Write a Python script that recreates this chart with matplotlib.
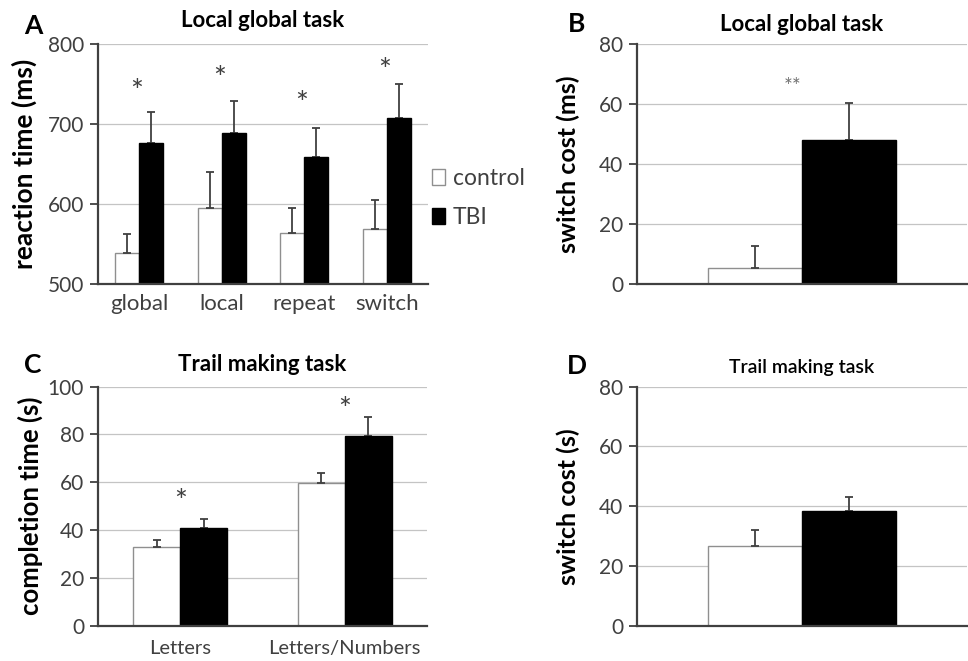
import matplotlib
matplotlib.use("Agg")
import matplotlib.pyplot as plt
from matplotlib.patches import Patch
from matplotlib.transforms import offset_copy
import numpy as np

plt.rcParams['font.family'] = ['Lato', 'DejaVu Sans']

# ---- data ----
cats_A = ['global', 'local', 'repeat', 'switch']
control_A = [539, 595, 564, 569]
control_A_err = [24, 45, 31, 36]
tbi_A = [676, 689, 659, 707]
tbi_A_err = [39, 40, 36, 43]
star_A_y = [751, 767, 736, 777]

control_B = [5.4]
control_B_err = [7.3]
tbi_B = [47.9]
tbi_B_err = [12.4]
star_B_y = [67.7]

cats_C = ['Letters', 'Letters/Numbers']
control_C = [32.8, 59.7]
control_C_err = [3.1, 4.2]
tbi_C = [40.9, 79.4]
tbi_C_err = [3.6, 7.8]
star_C_y = [55.4, 93.7]

control_D = [26.7]
control_D_err = [5.3]
tbi_D = [38.5]
tbi_D_err = [4.5]

TXT = '#404040'
GRID = '#c4c4c4'

fig = plt.figure(figsize=(9.68, 6.61), dpi=100)

axA = fig.add_axes([0.1012, 0.5703, 0.3409, 0.3631])
axB = fig.add_axes([0.658, 0.5703, 0.341, 0.3631])
axC = fig.add_axes([0.1012, 0.0534, 0.3399, 0.3616])
axD = fig.add_axes([0.658, 0.0534, 0.341, 0.3616])


def draw(ax, cats, ctrl, ctrl_err, tbi, tbi_err, ylim, yticks, width, xtick_fs, ytick_fs, xpad):
    x = np.arange(len(ctrl))
    ax.bar(x - width / 2, ctrl, width, color='white', edgecolor='#8f8f8f', linewidth=1.0, zorder=2)
    ax.bar(x + width / 2, tbi, width, color='black', edgecolor='black', linewidth=1.0, zorder=2)
    ax.errorbar(x - width / 2, ctrl, yerr=[np.zeros(len(ctrl)), ctrl_err], fmt='none',
                ecolor=TXT, elinewidth=1.3, capsize=3, capthick=1.3, zorder=3)
    ax.errorbar(x + width / 2, tbi, yerr=[np.zeros(len(tbi)), tbi_err], fmt='none',
                ecolor=TXT, elinewidth=1.3, capsize=3, capthick=1.3, zorder=1.5)
    ax.set_xlim(-0.5, len(ctrl) - 0.5)
    ax.set_ylim(*ylim)
    ax.set_yticks(yticks)
    ax.yaxis.grid(True, color=GRID, linewidth=0.9)
    ax.set_axisbelow(True)
    for s in ['top', 'right']:
        ax.spines[s].set_visible(False)
    for s in ['left', 'bottom']:
        ax.spines[s].set_color(TXT)
        ax.spines[s].set_linewidth(1.6)
    ax.spines['bottom'].set_zorder(4)
    ax.tick_params(axis='y', length=6, width=1.3, color=TXT, labelcolor=TXT,
                   labelsize=ytick_fs, pad=4)
    ax.tick_params(axis='x', length=0, labelcolor=TXT, labelsize=xtick_fs, pad=xpad)
    if cats is None:
        ax.set_xticks([])
    else:
        ax.set_xticks(x)
        ax.set_xticklabels(cats)
    return x


def stars(ax, xs, ys, txt, fs, color):
    tr = offset_copy(ax.transData, fig=fig, y=-0.58 * fs, units='points')
    for xi, yi in zip(xs, ys):
        ax.text(xi, yi, txt, ha='center', va='baseline', fontsize=fs, color=color, transform=tr)


xA = draw(axA, cats_A, control_A, control_A_err, tbi_A, tbi_A_err, (500, 800),
          [500, 600, 700, 800], 0.29, 16, 15, 7.5)
stars(axA, xA - 0.03, star_A_y, '*', 22, TXT)
axA.set_ylabel('reaction time (ms)', fontsize=19, fontweight='bold', color='black')
axA.yaxis.set_label_coords(-0.185, 0.5)
axA.set_title('Local global task', fontsize=16, fontweight='bold', pad=12)

handles = [Patch(facecolor='white', edgecolor='#8f8f8f', label='control'),
           Patch(facecolor='black', edgecolor='black', label='TBI')]
axA.legend(handles=handles, loc='center left', bbox_to_anchor=(1.012, 0.357), frameon=False,
           fontsize=16.5, handlelength=0.55, handleheight=0.7, handletextpad=0.35,
           labelspacing=0.78, labelcolor=TXT, borderaxespad=0, borderpad=0)

xB = draw(axB, None, control_B, control_B_err, tbi_B, tbi_B_err, (0, 80),
          [0, 20, 40, 60, 80], 0.284, 14, 15, 5)
stars(axB, xB - 0.03, star_B_y, '**', 15, '#707070')
axB.set_ylabel('switch cost (ms)', fontsize=18, fontweight='bold', color='black')
axB.yaxis.set_label_coords(-0.172, 0.5)
axB.set_title('Local global task', fontsize=16, fontweight='bold', pad=9.5)

xC = draw(axC, cats_C, control_C, control_C_err, tbi_C, tbi_C_err, (0, 100),
          [0, 20, 40, 60, 80, 100], 0.285, 14.5, 15, 10.5)
stars(axC, xC, star_C_y, '*', 22, TXT)
axC.set_ylabel('completion time (s)', fontsize=18.5, fontweight='bold', color='black')
axC.yaxis.set_label_coords(-0.167, 0.5)
axC.set_title('Trail making task', fontsize=16, fontweight='bold', pad=11.5)

xD = draw(axD, None, control_D, control_D_err, tbi_D, tbi_D_err, (0, 80),
          [0, 20, 40, 60, 80], 0.284, 14, 15, 5)
axD.set_ylabel('switch cost (s)', fontsize=18, fontweight='bold', color='black')
axD.yaxis.set_label_coords(-0.172, 0.5)
axD.set_title('Trail making task', fontsize=14, fontweight='semibold', pad=9.5)

for lab, (px, py) in zip('ABCD', [(33, 26), (577, 24), (33, 365), (577, 366)]):
    fig.text(px / 968, 1 - py / 661, lab, fontsize=19, fontweight='bold',
             ha='center', va='center')

fig.savefig('out.png', dpi=100)
